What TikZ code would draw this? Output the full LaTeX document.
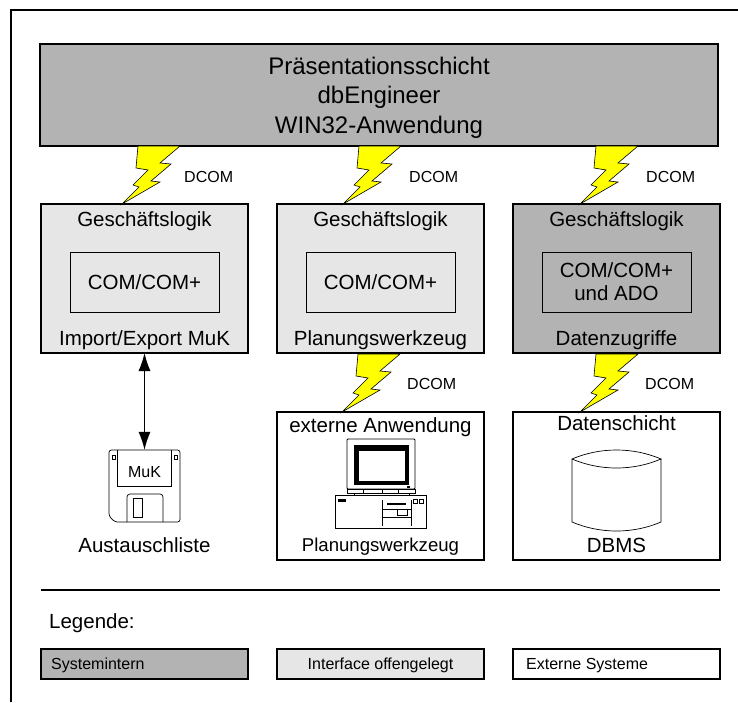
\documentclass[tikz,border=0pt]{standalone}
\usepackage{fontspec}
\setmainfont{Liberation Sans}
\usepackage{tikz}
\usetikzlibrary{arrows.meta}

\definecolor{darkfill}{RGB}{179,179,179}
\definecolor{lightfill}{RGB}{230,230,230}
\definecolor{boltyellow}{RGB}{255,255,0}

% lightning bolt, tip at the given point
\newcommand{\bolt}[1]{%
  \draw[bolt, shift={#1}] (0,0) -- (17,-17) -- (11,-19) -- (26,-34) -- (14,-36)
    -- (16,-58) -- (58,-58) -- (38,-41) -- (49,-40) -- (29,-23) -- (38,-22) -- cycle;}

\begin{document}
\begin{tikzpicture}[x=1pt,y=-1pt]
    \tikzset{tier/.style = {draw, line width=1.1pt, inner sep=0pt, outer sep=0pt}}
    \tikzset{core/.style = {draw, line width=1pt, inner sep=0pt, outer sep=0pt,
      minimum width=149, minimum height=60}}
    \tikzset{txt/.style = {inner sep=0pt, anchor=base, font=\fontsize{20.5}{24}\selectfont}}
    \tikzset{small/.style = {inner sep=0pt, anchor=base, font=\fontsize{16}{19}\selectfont}}
    \tikzset{bolt/.style = {draw, line width=0.6pt, fill=boltyellow}}
    \tikzset{edge/.style = {{Latex[length=18pt,width=12pt]}-{Latex[length=18pt,width=12pt]}, line width=1pt}}

    \useasboundingbox (0,0) rectangle (738,702);
    \draw[line width=1.2pt] (11,702) -- (11,10) -- (738,10);

    % tiers
    \node[tier, fill=darkfill, minimum width=678, minimum height=102] (praes) at (379,95) {};
    \node[txt, font=\fontsize{24}{29}\selectfont] at (379,74) {Präsentationsschicht};
    \node[txt, font=\fontsize{24}{29}\selectfont] at (379,103.5) {dbEngineer};
    \node[txt, font=\fontsize{24}{29}\selectfont] at (379,133) {WIN32-Anwendung};

    \node[tier, fill=lightfill, minimum width=207, minimum height=149] (logicA) at (144.5,278.5) {};
    \node[tier, fill=lightfill, minimum width=207, minimum height=149] (logicB) at (380.5,278.5) {};
    \node[tier, fill=darkfill, minimum width=207, minimum height=149] (logicC) at (616.5,278.5) {};

    \node[core] (comA) at (144.5,282) {};
    \node[core] (comB) at (380.5,282) {};
    \node[core] (comC) at (616.5,282) {};

    \node[txt] at (144.5,226) {Geschäftslogik};
    \node[txt] at (380.5,226) {Geschäftslogik};
    \node[txt] at (616.5,226) {Geschäftslogik};
    \node[txt] at (144.5,289.5) {COM/COM+};
    \node[txt] at (380.5,289.5) {COM/COM+};
    \node[txt] at (616.5,277) {COM/COM+};
    \node[txt] at (616.5,300.5) {und ADO};
    \node[txt] at (144.5,345) {Import/Export MuK};
    \node[txt] at (380.5,345) {Planungswerkzeug};
    \node[txt] at (616.5,345) {Datenzugriffe};

    \node[tier, minimum width=207, minimum height=148] (extern) at (380.5,486) {};
    \node[tier, minimum width=207, minimum height=148] (data) at (616.5,486) {};
    \node[txt] at (380.5,432) {externe Anwendung};
    \node[txt, font=\fontsize{18.6}{22}\selectfont] at (380.5,551) {Planungswerkzeug};
    \node[txt] at (616.5,430) {Datenschicht};
    \node[txt] at (616.5,552) {DBMS};

    % DCOM links
    \bolt{([xshift=-22.5pt]logicA.north)}
    \bolt{([xshift=-37.5pt]logicB.north)}
    \bolt{([xshift=-36.5pt]logicC.north)}
    \bolt{([xshift=-38.5pt]extern.north)}
    \bolt{([xshift=-36.5pt]data.north)}
    \node[small, anchor=base west] at (184,182) {DCOM};
    \node[small, anchor=base west] at (409,182) {DCOM};
    \node[small, anchor=base west] at (646,182) {DCOM};
    \node[small, anchor=base west] at (407,389) {DCOM};
    \node[small, anchor=base west] at (645,389) {DCOM};

    % floppy disk
    \node[minimum width=71, minimum height=72, inner sep=0pt] (disk) at (144.5,486) {};
    \draw[line width=0.7pt, rounded corners=2.5pt] (115,522) -- (109,516) -- (109,450)
      -- (180,450) -- (180,522) -- cycle;
    \draw[line width=0.7pt] (117,450) -- (117,486) -- (171,486) -- (171,450);
    \draw[line width=0.6pt] (112,455) rectangle (115,459) (174,455) rectangle (177,459);
    \draw[line width=0.7pt, rounded corners=3pt] (127,522) -- (127,494) -- (163,494) -- (163,522);
    \draw[line width=0.7pt] (133,498) rectangle (142,517);
    \node[small] at (144.5,477) {MuK};
    \node[txt] at (144.5,552) {Austauschliste};
    \draw[edge] (logicA.south) -- (disk.north);

    % computer
    \draw[line width=0.8pt, rounded corners=1pt] (347,439) rectangle (415,489);
    \fill (354,445) rectangle (409,485);
    \fill[white] (359,451) rectangle (405,481);
    \fill (407,486) rectangle (410,488);
    \draw[line width=0.7pt] (347,489) rectangle (415,493);
    \draw[line width=0.6pt] (363,489) -- (363,493) (382,489) -- (382,493) (398,489) -- (398,493);
    \draw[line width=0.7pt] (354,493) -- (354,495) (409,493) -- (409,495);
    \draw[line width=0.8pt] (335,495) rectangle (426,528);
    \fill (338,499) rectangle (346,502);
    \draw[line width=0.6pt] (382,500) -- (382,526) (382,509) -- (411,509) (382,517) -- (411,517)
      (411,500) -- (411,526);
    \fill (387,503) rectangle (406,505);
    \draw[line width=0.6pt] (397,509) rectangle (407,515);
    \draw[line width=0.5pt] (413,499) rectangle (417,503) (419,499) rectangle (423,503);

    % database
    \draw[line width=0.7pt] (572,459) .. controls (600,447) and (633,447) .. (661,459)
      .. controls (633,471) and (600,471) .. (572,459) -- (572,522)
      .. controls (600,534) and (633,534) .. (661,522) -- (661,459);

    % legend
    \draw[line width=1.2pt] (41,590) -- (720,590);
    \node[txt, anchor=base west] at (49,628) {Legende:};
    \node[tier, fill=darkfill, minimum width=207, minimum height=30] (keyA) at (144.5,664) {};
    \node[tier, fill=lightfill, minimum width=207, minimum height=30] (keyB) at (380.5,664) {};
    \node[tier, minimum width=207, minimum height=30] (keyC) at (616.5,664) {};
    \node[small, anchor=base west] at (51,669) {Systemintern};
    \node[small] at (380.5,669) {Interface offengelegt};
    \node[small, anchor=base west] at (526,669) {Externe Systeme};
\end{tikzpicture}
\end{document}
